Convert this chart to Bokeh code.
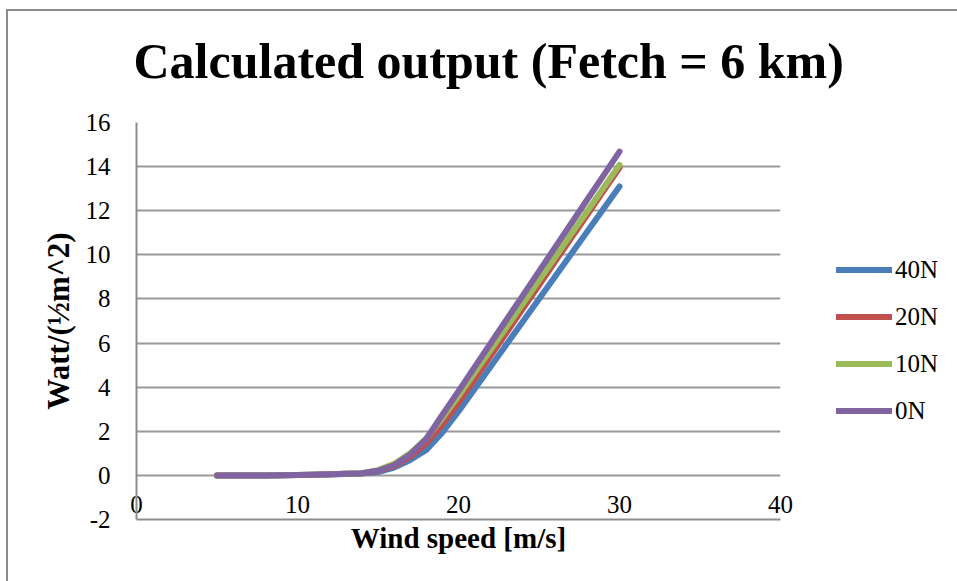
from bokeh.plotting import figure
from bokeh.models import FixedTicker, Legend, LegendItem, Title
from bokeh.embed import file_html
from bokeh.resources import INLINE

# ---- data ----
wind_speed = [5, 6, 7, 8, 9, 10, 11, 12, 13, 14, 15, 16, 17, 18, 19, 20,
              21, 22, 23, 24, 25, 26, 27, 28, 29, 30]
out_40N = [0, 0, 0, 0, 0.01, 0.02, 0.03, 0.04, 0.06, 0.08, 0.15, 0.35, 0.7, 1.15, 1.95, 2.9,
           3.92, 4.94, 5.96, 6.98, 8.0, 9.02, 10.04, 11.06, 12.08, 13.1]
out_20N = [0, 0, 0, 0, 0.01, 0.02, 0.03, 0.05, 0.07, 0.09, 0.2, 0.42, 0.85, 1.45, 2.3, 3.29,
           4.36, 5.42, 6.49, 7.56, 8.62, 9.69, 10.76, 11.82, 12.89, 13.95]
out_10N = [0, 0, 0, 0, 0.01, 0.02, 0.03, 0.05, 0.07, 0.1, 0.24, 0.52, 1.0, 1.68, 2.6, 3.6,
           4.65, 5.7, 6.74, 7.79, 8.84, 9.89, 10.94, 11.98, 13.03, 14.08]
out_0N = [0, 0, 0, 0, 0.01, 0.02, 0.03, 0.05, 0.07, 0.1, 0.21, 0.46, 0.95, 1.65, 2.75, 3.82,
          4.91, 5.99, 7.08, 8.16, 9.25, 10.34, 11.42, 12.51, 13.59, 14.68]
series_names = ["40N", "20N", "10N", "0N"]
series_colors = ["#4A7EBB", "#C0504D", "#9BBB59", "#8064A2"]
x_ticks = [0, 10, 20, 30, 40]
y_ticks = [-2, 0, 2, 4, 6, 8, 10, 12, 14, 16]
title_text = "Calculated output (Fetch = 6 km)"
x_label = "Wind speed [m/s]"
y_label = "Watt/(½m^2)"

FONT = "Liberation Serif"

p = figure(frame_width=644, frame_height=397, x_range=(0, 40), y_range=(-2, 16),
           output_backend="svg", toolbar_location=None,
           min_border_left=139, min_border_right=210,
           min_border_top=122, min_border_bottom=90)
p.margin = (0, 0, 0, -3)
p.styles = {"outline": "2px solid #8c8c8c", "outline-offset": "-11px",
            "background-color": "white"}
p.outline_line_color = None
p.background_fill_color = None
p.border_fill_color = None

# title
t = Title(text=title_text, text_font=FONT, text_font_style="bold",
          text_font_size="50px", align="left", offset=-3, standoff=64,
          vertical_align="top", text_color="black")
p.title = t

# axes
p.xaxis.ticker = FixedTicker(ticks=x_ticks)
p.yaxis.ticker = FixedTicker(ticks=y_ticks)
p.yaxis.major_label_overrides = {v: str(v) for v in y_ticks}
p.xaxis.major_label_overrides = {v: str(v) for v in x_ticks}
for ax in (p.xaxis[0], p.yaxis[0]):
    ax.axis_line_color = "#8c8c8c"
    ax.axis_line_width = 2
    ax.major_tick_line_color = None
    ax.minor_tick_line_color = None
    ax.major_tick_out = 0
    ax.major_tick_in = 0
    ax.major_label_text_font = FONT
    ax.major_label_text_font_size = "25px"
    ax.major_label_text_color = "black"
    ax.axis_label_text_font = FONT
    ax.axis_label_text_font_style = "bold"
    ax.axis_label_text_color = "black"

p.xaxis.axis_label = x_label
p.yaxis.axis_label = y_label
p.xaxis.axis_label_text_font_size = "29px"
p.yaxis.axis_label_text_font_size = "31px"
p.xaxis.major_label_standoff = -24
p.xaxis.axis_label_standoff = 6
p.yaxis.major_label_standoff = 26
p.yaxis.axis_label_standoff = 7

p.xgrid.grid_line_color = None
p.ygrid.grid_line_color = "#999999"
p.ygrid.grid_line_width = 2

series = [out_40N, out_20N, out_10N, out_0N]
items = []
for name, col, ys in zip(series_names, series_colors, series):
    r = p.line(wind_speed, ys, line_color=col, line_width=6,
               line_cap="round", line_join="round")
    items.append(LegendItem(label=name, renderers=[r]))

legend = Legend(items=items, location=(56, 85), orientation="vertical",
                glyph_width=56, glyph_height=47, label_height=47,
                label_standoff=3, spacing=0, padding=0, margin=0,
                border_line_color=None, background_fill_alpha=0,
                label_text_font=FONT, label_text_font_size="25px",
                label_text_color="black")
p.add_layout(legend, "right")

open("out.html", "w").write(file_html(p, INLINE))
